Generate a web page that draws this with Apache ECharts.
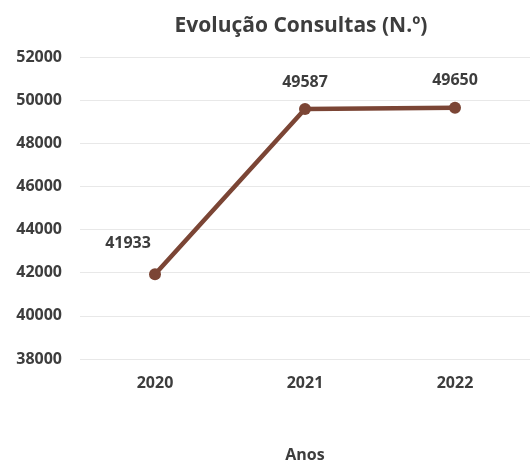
<!DOCTYPE html>
<html>
<head>
<meta charset="utf-8">
<script src="https://cdn.jsdelivr.net/npm/echarts@6/dist/echarts.min.js"></script>
<style>
  html, body { margin: 0; padding: 0; background: #ffffff; }
  #chart { width: 531px; height: 463px; }
</style>
</head>
<body>
<div id="chart"></div>
<script>
// Consultation counts per year
const anos = ['2020', '2021', '2022'];
const consultas = [41933, 49587, 49650];
const yMin = 38000;
const yMax = 52000;
const yStep = 2000;

const textColor = '#3d3d3d';
const lineColor = '#7b4535';
const fontFamily = '"Open Sans", "Liberation Sans", sans-serif';

const seriesData = consultas.map(function (v, i) {
  const item = { value: v };
  if (i === 0) {
    item.label = { offset: [-27, -4] };
  }
  return item;
});

const chart = echarts.init(document.getElementById('chart'), null, { renderer: 'canvas' });
chart.setOption({
  backgroundColor: '#ffffff',
  animation: false,
  title: {
    text: 'Evolução Consultas (N.º)',
    left: 296,
    textAlign: 'center',
    top: 11,
    textStyle: { fontFamily: fontFamily, fontSize: 21, fontWeight: 'bold', color: textColor }
  },
  grid: { left: 80, right: 1, top: 57, bottom: 104, containLabel: false, outerBoundsMode: 'none' },
  xAxis: {
    type: 'category',
    data: anos,
    boundaryGap: true,
    name: 'Anos',
    nameLocation: 'middle',
    nameGap: 88,
    nameTextStyle: { fontFamily: fontFamily, fontSize: 16, fontWeight: 'bold', color: textColor },
    axisLine: { show: false },
    axisTick: { show: false },
    axisLabel: { margin: 16, fontFamily: fontFamily, fontSize: 16, fontWeight: 'bold', color: textColor }
  },
  yAxis: {
    type: 'value',
    min: yMin,
    max: yMax,
    interval: yStep,
    axisLine: { show: false },
    axisTick: { show: false },
    splitLine: { lineStyle: { color: '#e8e8e8', width: 1 } },
    axisLabel: {
      margin: 18,
      formatter: function (v) { return String(v); },
      fontFamily: fontFamily, fontSize: 16, fontWeight: 'bold', color: textColor
    }
  },
  series: [{
    type: 'line',
    data: seriesData,
    symbol: 'circle',
    symbolSize: 12,
    lineStyle: { color: lineColor, width: 4.5 },
    itemStyle: { color: lineColor },
    label: {
      show: true,
      position: 'top',
      distance: 13,
      fontFamily: fontFamily,
      fontSize: 16,
      fontWeight: 'bold',
      color: textColor
    }
  }]
});
</script>
</body>
</html>
